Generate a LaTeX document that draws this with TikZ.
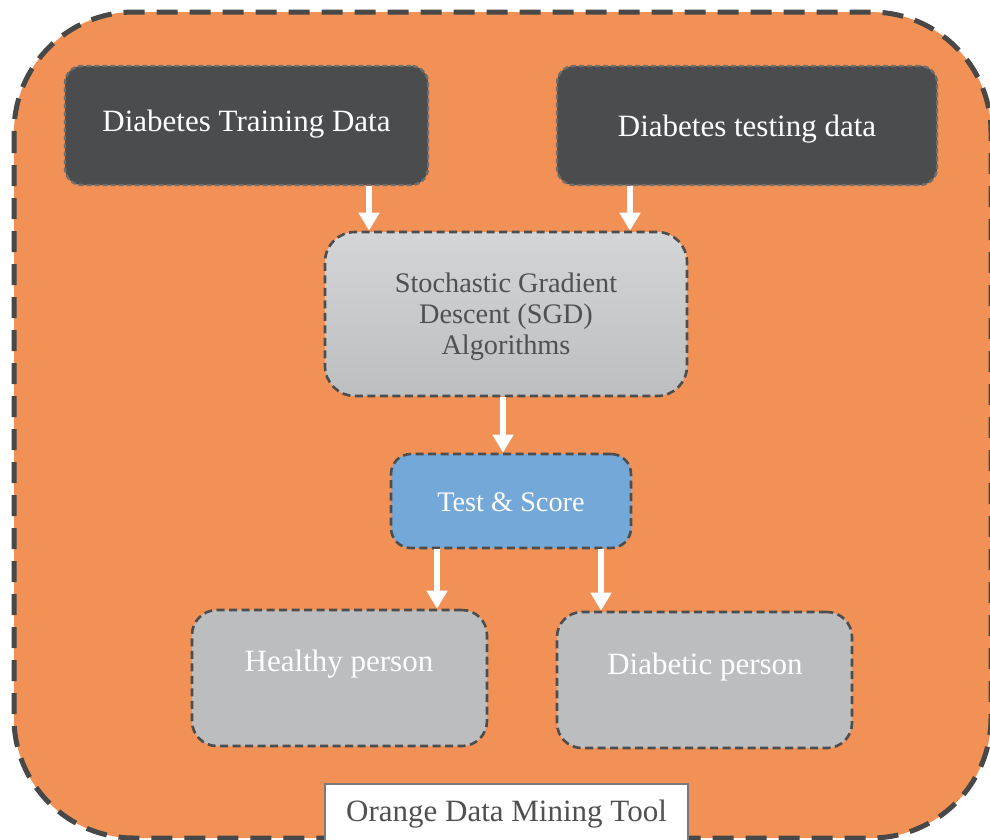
\documentclass[tikz,border=0pt]{standalone}
\usepackage{fontspec}
\setmainfont{Liberation Serif}
\usetikzlibrary{arrows.meta}
\definecolor{orangebg}{HTML}{F19155}
\definecolor{outerline}{HTML}{484848}
\definecolor{darkfill}{HTML}{4B4C4E}
\definecolor{darkedge}{HTML}{6E6E6E}
\definecolor{edgegray}{HTML}{4D4D4D}
\definecolor{bluefill}{HTML}{74A8D8}
\definecolor{grayfill}{HTML}{BCBDBF}
\definecolor{sgdtop}{HTML}{D4D5D7}
\definecolor{sgdbot}{HTML}{BDBEC0}
\definecolor{textgray}{HTML}{505050}
\definecolor{labeledge}{HTML}{7A7A7A}
\begin{document}
\begin{tikzpicture}[x=1pt,y=-1pt,
  boxbase/.style={rectangle, inner sep=0pt, line width=2.6pt, draw=edgegray, dash pattern=on 8pt off 4.5pt},
  darkbox/.style={boxbase, fill=darkfill, draw=darkedge, line width=2.4pt, dash pattern=on 5pt off 3pt, rounded corners=17pt},
  sgdbox/.style={boxbase, top color=sgdtop, bottom color=sgdbot, rounded corners=30pt},
  bluebox/.style={boxbase, fill=bluefill, rounded corners=20pt},
  graybox/.style={boxbase, fill=grayfill, rounded corners=25pt},
  whitetext/.style={text=white, inner sep=0pt, anchor=base, font=\fontsize{31}{37}\selectfont},
  smallwhite/.style={text=white, inner sep=0pt, anchor=base, font=\fontsize{28.3}{33}\selectfont},
  sgdtext/.style={text=textgray, inner sep=0pt, anchor=base, font=\fontsize{28.3}{33}\selectfont},
  labelbox/.style={rectangle, fill=white, draw=labeledge, line width=1.5pt, inner sep=0pt},
  labeltext/.style={text=textgray, inner sep=0pt, anchor=base, font=\fontsize{31}{37}\selectfont},
  arr/.style={draw=white, line width=6pt, -{Triangle[width=20pt,length=18pt]}}
]
\useasboundingbox (0,0) rectangle (990,839);
\clip (0,0) rectangle (990,839);
\draw[fill=orangebg, draw=outerline, line width=5pt, dash pattern=on 21pt off 12pt, rounded corners=120pt] (14,12) rectangle (991,838);

\node[darkbox, minimum width=363pt, minimum height=119pt] (train) at (246.5,125.5) {};
\node[darkbox, minimum width=380pt, minimum height=119pt] (test) at (747,125.5) {};
\node[sgdbox, minimum width=362pt, minimum height=164pt] (sgd) at (506,314) {};
\node[bluebox, minimum width=240pt, minimum height=94pt] (ts) at (511,501) {};
\node[graybox, minimum width=295pt, minimum height=136pt] (hp) at (339.5,678) {};
\node[graybox, minimum width=295pt, minimum height=136pt] (dp) at (704.5,680) {};

\node[whitetext] (traint) at (246.5,131) {Diabetes Training Data};
\node[whitetext] (testt) at (747,136) {Diabetes testing data};
\node[sgdtext] (sgd1) at (506,292) {Stochastic Gradient};
\node[sgdtext] (sgd2) at (506,323) {Descent (SGD)};
\node[sgdtext] (sgd3) at (506,354) {Algorithms};
\node[smallwhite] (tst) at (511,511) {Test \& Score};
\node[whitetext] (hpt) at (339,671) {Healthy person};
\node[whitetext] (dpt) at (705,674) {Diabetic person};

\node[labelbox, minimum width=363pt, minimum height=70pt, anchor=north] (lbl) at (506.5,783) {};
\node[labeltext] (lblt) at (506.5,821) {Orange Data Mining Tool};

\draw[arr] ([xshift=122.5pt]train.south) -- ([xshift=-137pt]sgd.north);
\draw[arr] ([xshift=-117pt]test.south) -- ([xshift=124pt]sgd.north);
\draw[arr] ([xshift=-3pt]sgd.south) -- ([xshift=-8pt]ts.north);
\draw[arr] ([xshift=-74pt]ts.south) -- ([xshift=97.5pt]hp.north);
\draw[arr] ([xshift=90pt]ts.south) -- ([xshift=-103.5pt]dp.north);
\end{tikzpicture}
\end{document}
